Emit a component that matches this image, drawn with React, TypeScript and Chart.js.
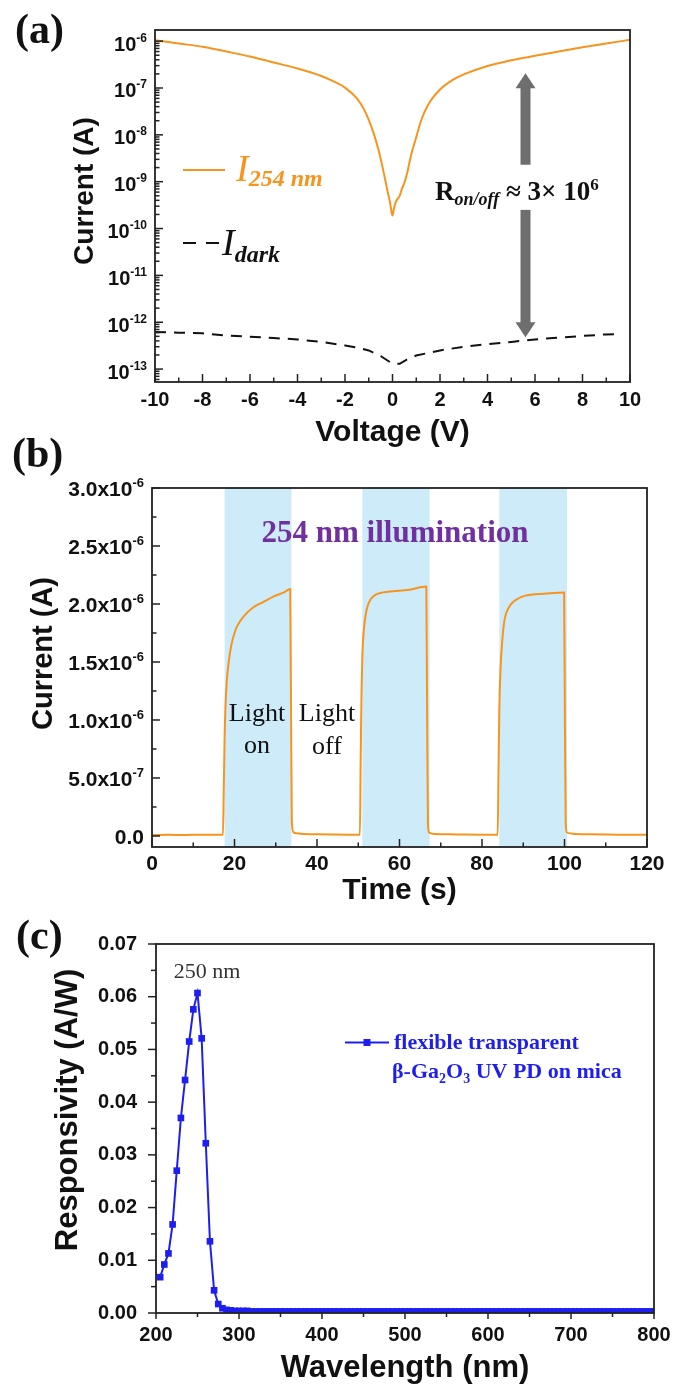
import React, { useEffect, useRef } from 'react';
import { Chart, registerables } from 'chart.js';

Chart.register(...registerables);

const SANS = "'Liberation Sans', Arial, Helvetica, sans-serif";
const SERIF = "'Liberation Serif', 'Times New Roman', Times, serif";
const INK = '#111111';
const ORANGE = '#F7941E';
const BLUE = '#1E1EF0';
const PURPLE = '#7030A0';
const BAND = '#CDEBF9';
const ARROW_GRAY = '#6E6E6E';

// ---------------- (a) I-V curves ----------------
const A_V_LIGHT = [-10, -9, -8, -7, -6, -5, -4, -3, -2.5, -2, -1.5, -1.2, -1, -0.8, -0.6, -0.45, -0.3, -0.2, -0.1, -0.03, 0, 0.05, 0.12, 0.2, 0.3, 0.4, 0.5, 0.6, 0.7, 0.8, 1, 1.2, 1.5, 2, 2.5, 3, 4, 5, 6, 7, 8, 9, 10];
const A_I_LIGHT = [1.05e-6, 8.9e-7, 7.6e-7, 6.0e-7, 4.7e-7, 3.5e-7, 2.6e-7, 1.8e-7, 1.4e-7, 1.02e-7, 6.0e-8, 3.5e-8, 2.1e-8, 1.1e-8, 5.0e-9, 2.4e-9, 1.05e-9, 6.0e-10, 3.5e-10, 2.1e-10, 1.9e-10, 2.5e-10, 3.5e-10, 4.2e-10, 5.0e-10, 7.1e-10, 9.5e-10, 1.4e-9, 2.4e-9, 4.0e-9, 8.9e-9, 2.0e-8, 4.4e-8, 9.3e-8, 1.45e-7, 1.95e-7, 2.95e-7, 3.9e-7, 4.9e-7, 6.0e-7, 7.4e-7, 8.9e-7, 1.07e-6];
const A_V_DARK = [-10, -9, -8, -7, -6, -5, -4, -3, -2, -1.5, -1, -0.5, 0, 0.3, 0.6, 1, 2, 3, 4, 5, 6, 7, 8, 9, 9.5];
const A_I_DARK = [6.2e-13, 6.0e-13, 5.8e-13, 5.2e-13, 4.9e-13, 4.6e-13, 4.3e-13, 3.8e-13, 3.2e-13, 2.9e-13, 2.5e-13, 1.9e-13, 1.3e-13, 1.3e-13, 1.6e-13, 1.95e-13, 2.5e-13, 3.0e-13, 3.4e-13, 3.8e-13, 4.3e-13, 4.7e-13, 5.1e-13, 5.5e-13, 5.6e-13];
const A_X_TICKS = [-10, -8, -6, -4, -2, 0, 2, 4, 6, 8, 10];
const A_X_MINOR = [-9, -7, -5, -3, -1, 1, 3, 5, 7, 9];
const A_Y_DECADES = [-13, -12, -11, -10, -9, -8, -7, -6];
const A_Y_MINOR_MULT = [2, 3, 4, 5, 6, 7, 8, 9];
const A_Y_MIN = 5.3e-14;
const A_Y_MAX = 1.73e-6;
const A_ARROW_V = 5.6;
const A_ARROW_I = [2.07e-7, 2.3e-9, 2.5e-10, 4.8e-13];

// ---------------- (b) transient response ----------------
const B_TIME = [0, 4, 8, 12, 16, 17.2, 17.4, 17.6, 17.8, 18.1, 18.6, 19.2, 20, 20.8, 22.4, 24.5, 26.6, 29.8, 32, 33.5, 33.7, 33.9, 34.3, 36, 40, 44, 48, 50.4, 50.6, 50.8, 51.0, 51.5, 52.1, 53, 54.2, 56, 58.4, 62, 66.5, 66.7, 66.9, 67.2, 68, 72, 76, 80, 83.8, 84.0, 84.2, 84.5, 85, 85.5, 86.5, 87.6, 90.3, 95.6, 99.9, 100.1, 100.3, 100.6, 102, 106, 110, 115, 120];
const B_CURRENT = [0.8e-8, 1.0e-8, 0.9e-8, 1.1e-8, 1.0e-8, 1.0e-8, 0.40e-6, 0.85e-6, 1.10e-6, 1.32e-6, 1.50e-6, 1.64e-6, 1.75e-6, 1.82e-6, 1.90e-6, 1.97e-6, 2.01e-6, 2.07e-6, 2.10e-6, 2.13e-6, 1.10e-6, 0.12e-6, 0.03e-6, 0.02e-6, 1.5e-8, 1.2e-8, 1.1e-8, 1.1e-8, 0.70e-6, 1.25e-6, 1.56e-6, 1.83e-6, 1.96e-6, 2.04e-6, 2.08e-6, 2.10e-6, 2.11e-6, 2.12e-6, 2.15e-6, 1.05e-6, 0.10e-6, 0.03e-6, 0.02e-6, 1.5e-8, 1.2e-8, 1.1e-8, 1.1e-8, 0.55e-6, 1.10e-6, 1.45e-6, 1.72e-6, 1.87e-6, 1.97e-6, 2.02e-6, 2.07e-6, 2.09e-6, 2.10e-6, 1.00e-6, 0.10e-6, 0.03e-6, 0.02e-6, 1.5e-8, 1.2e-8, 1.0e-8, 1.0e-8];
const B_LIGHT_ON = [17.6, 51.0, 84.2];
const B_LIGHT_OFF = [33.8, 67.3, 100.6];
const B_X_TICKS = [0, 20, 40, 60, 80, 100, 120];
const B_X_MINOR = [10, 30, 50, 70, 90, 110];
const B_Y_TICKS = [0, 5e-7, 1e-6, 1.5e-6, 2e-6, 2.5e-6, 3e-6];
const B_Y_MANTISSA = ['0.0', '5.0x10', '1.0x10', '1.5x10', '2.0x10', '2.5x10', '3.0x10'];
const B_Y_EXPONENT = ['', '-7', '-6', '-6', '-6', '-6', '-6'];
const B_Y_MINOR = [2.5e-7, 7.5e-7, 1.25e-6, 1.75e-6, 2.25e-6, 2.75e-6];
const B_Y_MIN = -9.5e-8;
const B_Y_MAX = 3e-6;

// ---------------- (c) spectral responsivity ----------------
const C_WAVELENGTH = [205, 210, 215, 220, 225, 230, 235, 240, 245, 250, 255, 260, 265, 270, 275, 280, 285, 290, 295, 300,
  305, 310, 315, 320, 325, 330, 335, 340, 345, 350, 355, 360, 365, 370, 375, 380, 385, 390, 395, 400,
  405, 410, 415, 420, 425, 430, 435, 440, 445, 450, 455, 460, 465, 470, 475, 480, 485, 490, 495, 500,
  505, 510, 515, 520, 525, 530, 535, 540, 545, 550, 555, 560, 565, 570, 575, 580, 585, 590, 595, 600,
  605, 610, 615, 620, 625, 630, 635, 640, 645, 650, 655, 660, 665, 670, 675, 680, 685, 690, 695, 700,
  705, 710, 715, 720, 725, 730, 735, 740, 745, 750, 755, 760, 765, 770, 775, 780, 785, 790, 795, 800];
const C_RESPONSIVITY = [0.0068, 0.0092, 0.0113, 0.0168, 0.0270, 0.0370, 0.0442, 0.0515, 0.0576, 0.0607, 0.0521, 0.0322, 0.0136, 0.0043, 0.0017, 0.0009, 0.0006, 0.0005, 0.0004, 0.0004,
  0.0004, 0.0004, 0.0003, 0.0003, 0.0003, 0.0003, 0.0003, 0.0003, 0.0003, 0.0003, 0.0003, 0.0003, 0.0003, 0.0003, 0.0003, 0.0003, 0.0003, 0.0003, 0.0003, 0.0003,
  0.0003, 0.0003, 0.0003, 0.0003, 0.0003, 0.0003, 0.0003, 0.0003, 0.0003, 0.0003, 0.0003, 0.0003, 0.0003, 0.0003, 0.0003, 0.0003, 0.0003, 0.0003, 0.0003, 0.0003,
  0.0003, 0.0003, 0.0003, 0.0003, 0.0003, 0.0003, 0.0003, 0.0003, 0.0003, 0.0003, 0.0003, 0.0003, 0.0003, 0.0003, 0.0003, 0.0003, 0.0003, 0.0003, 0.0003, 0.0003,
  0.0003, 0.0003, 0.0003, 0.0003, 0.0003, 0.0003, 0.0003, 0.0003, 0.0003, 0.0003, 0.0003, 0.0003, 0.0003, 0.0003, 0.0003, 0.0003, 0.0003, 0.0003, 0.0003, 0.0003,
  0.0003, 0.0003, 0.0003, 0.0003, 0.0003, 0.0003, 0.0003, 0.0003, 0.0003, 0.0003, 0.0003, 0.0003, 0.0003, 0.0003, 0.0003, 0.0003, 0.0003, 0.0003, 0.0003, 0.0003];
const C_X_TICKS = [200, 300, 400, 500, 600, 700, 800];
const C_X_MINOR = [250, 350, 450, 550, 650, 750];
const C_Y_TICKS = [0, 0.01, 0.02, 0.03, 0.04, 0.05, 0.06, 0.07];
const C_Y_MINOR = [0.005, 0.015, 0.025, 0.035, 0.045, 0.055, 0.065];
const C_PEAK_LABEL = '250 nm';

// ---------------- drawing helpers ----------------
const fnt = (size: number, weight = 'bold', family = SANS, style = 'normal') => `${style} ${weight} ${size}px ${family}`;

type Run = { t: string; f: string; dy?: number; c?: string };
function drawRuns(ctx: any, list: Run[], x: number, y: number, align: string, color: string) {
  ctx.textBaseline = 'alphabetic';
  ctx.textAlign = 'left';
  let w = 0;
  for (const r of list) { ctx.font = r.f; w += ctx.measureText(r.t).width; }
  let cx = align === 'left' ? x : align === 'center' ? x - w / 2 : x - w;
  for (const r of list) {
    ctx.font = r.f;
    ctx.fillStyle = r.c || color;
    ctx.fillText(r.t, cx, y + (r.dy || 0));
    cx += ctx.measureText(r.t).width;
  }
}
function vText(ctx: any, s: string, cx: number, cy: number, f: string, color: string) {
  ctx.save();
  ctx.translate(cx, cy);
  ctx.rotate(-Math.PI / 2);
  ctx.font = f;
  ctx.fillStyle = color;
  ctx.textAlign = 'center';
  ctx.textBaseline = 'middle';
  ctx.fillText(s, 0, 0);
  ctx.restore();
}
function line(ctx: any, x1: number, y1: number, x2: number, y2: number) {
  ctx.beginPath();
  ctx.moveTo(x1, y1);
  ctx.lineTo(x2, y2);
  ctx.stroke();
}
function xTicks(ctx: any, scale: any, vals: number[], yBase: number, len: number) {
  for (const v of vals) { const p = scale.getPixelForValue(v); line(ctx, p, yBase, p, yBase + len); }
}
function yTicks(ctx: any, scale: any, vals: number[], xBase: number, len: number) {
  for (const v of vals) { const p = scale.getPixelForValue(v); line(ctx, xBase, p, xBase + len, p); }
}
function frame(ctx: any, a: any) {
  ctx.strokeStyle = '#222';
  ctx.lineWidth = 1.8;
  ctx.strokeRect(a.left, a.top, a.right - a.left, a.bottom - a.top);
}

const tickFont = (size: number) => ({ family: SANS, size, weight: 'bold' as const });
const hidden = { grid: { display: false, drawTicks: false }, border: { display: false } };

// ---------------- chart configs ----------------
function configA(): any {
  const plugin = {
    id: 'panelA',
    afterDraw(chart: any) {
      const { ctx, chartArea: a } = chart;
      const x = chart.scales.x, y = chart.scales.y;
      ctx.save();
      // arrow
      const ax = x.getPixelForValue(A_ARROW_V);
      const [t0, t1, t2, t3] = A_ARROW_I.map((v) => y.getPixelForValue(v));
      ctx.fillStyle = ARROW_GRAY;
      ctx.fillRect(ax - 5, t0 + 14, 10, t1 - t0 - 14);
      ctx.fillRect(ax - 5, t2, 10, t3 - 14 - t2);
      ctx.beginPath(); ctx.moveTo(ax, t0); ctx.lineTo(ax - 10, t0 + 15); ctx.lineTo(ax + 10, t0 + 15); ctx.closePath(); ctx.fill();
      ctx.beginPath(); ctx.moveTo(ax, t3); ctx.lineTo(ax - 10, t3 - 15); ctx.lineTo(ax + 10, t3 - 15); ctx.closePath(); ctx.fill();
      // ticks (inward)
      ctx.strokeStyle = '#222';
      ctx.lineWidth = 1.5;
      xTicks(ctx, x, A_X_TICKS, a.bottom, -8);
      xTicks(ctx, x, A_X_MINOR, a.bottom, -4.5);
      for (const e of A_Y_DECADES) {
        yTicks(ctx, y, [Math.pow(10, e)], a.left, 8);
        const minors = A_Y_MINOR_MULT.map((m) => m * Math.pow(10, e)).filter((v) => v < A_Y_MAX);
        yTicks(ctx, y, minors, a.left, 4.5);
      }
      yTicks(ctx, y, A_Y_MINOR_MULT.map((m) => m * 1e-14).filter((v) => v > A_Y_MIN), a.left, 4.5);
      frame(ctx, a);
      // y tick labels with superscripts
      for (const e of A_Y_DECADES) {
        const p = y.getPixelForValue(Math.pow(10, e));
        drawRuns(ctx, [{ t: '10', f: fnt(20) }, { t: String(e), f: fnt(12), dy: -9 }], a.left - 8, p + 9.5, 'right', INK);
      }
      // axis titles
      vText(ctx, 'Current (A)', 85.5, 191, fnt(28), INK);
      drawRuns(ctx, [{ t: 'Voltage (V)', f: fnt(30) }], (a.left + a.right) / 2, 441, 'center', INK);
      // panel label
      drawRuns(ctx, [{ t: '(a)', f: fnt(42, 'bold', SERIF) }], 15, 43, 'left', INK);
      // legend
      ctx.strokeStyle = ORANGE; ctx.lineWidth = 2;
      line(ctx, 183, 170, 225, 170);
      drawRuns(ctx, [{ t: 'I', f: fnt(38, 'normal', SERIF, 'italic') }, { t: '254 nm', f: fnt(24, 'bold', SERIF, 'italic'), dy: 5 }], 236, 181, 'left', ORANGE);
      ctx.strokeStyle = INK; ctx.setLineDash([13, 10]);
      line(ctx, 183, 243, 220, 243);
      ctx.setLineDash([]);
      drawRuns(ctx, [{ t: 'I', f: fnt(38, 'normal', SERIF, 'italic') }, { t: 'dark', f: fnt(24, 'bold', SERIF, 'italic'), dy: 7 }], 222, 255, 'left', INK);
      // ratio annotation
      drawRuns(ctx, [
        { t: 'R', f: fnt(27, 'bold', SERIF) },
        { t: 'on/off', f: fnt(18, 'bold', SERIF, 'italic'), dy: 5 },
        { t: ' \u2248 3\u00d7 10', f: fnt(27, 'bold', SERIF) },
        { t: '6', f: fnt(17, 'bold', SERIF), dy: -10 },
      ], 435, 200, 'left', INK);
      ctx.restore();
    },
  };
  return {
    type: 'line',
    data: {
      datasets: [
        { data: A_V_LIGHT.map((v, i) => ({ x: v, y: A_I_LIGHT[i] })), borderColor: ORANGE, borderWidth: 2, pointRadius: 0, cubicInterpolationMode: 'monotone' },
        { data: A_V_DARK.map((v, i) => ({ x: v, y: A_I_DARK[i] })), borderColor: INK, borderWidth: 2, borderDash: [11, 8], pointRadius: 0 },
      ],
    },
    options: {
      responsive: false, animation: false, devicePixelRatio: 1,
      layout: { padding: { left: 0, top: 30, right: 54, bottom: 0 } },
      plugins: { legend: { display: false }, tooltip: { enabled: false } },
      scales: {
        x: {
          type: 'linear', min: -10, max: 10, ...hidden,
          afterBuildTicks: (s: any) => { s.ticks = A_X_TICKS.map((v) => ({ value: v })); },
          ticks: { autoSkip: false, maxRotation: 0, padding: 6, color: INK, font: tickFont(20), callback: (v: any) => String(v) },
          afterFit: (s: any) => { s.height = 73; },
        },
        y: {
          type: 'logarithmic', min: A_Y_MIN, max: A_Y_MAX, ...hidden,
          ticks: { display: false },
          afterFit: (s: any) => { s.width = 155; },
        },
      },
    },
    plugins: [plugin],
  };
}

function configB(): any {
  const plugin = {
    id: 'panelB',
    beforeDatasetsDraw(chart: any) {
      const { ctx, chartArea: a } = chart;
      const x = chart.scales.x;
      ctx.save();
      ctx.fillStyle = BAND;
      B_LIGHT_ON.forEach((s, i) => {
        const x1 = x.getPixelForValue(s), x2 = x.getPixelForValue(B_LIGHT_OFF[i]);
        ctx.fillRect(x1, a.top, x2 - x1, a.bottom - a.top);
      });
      ctx.restore();
    },
    afterDraw(chart: any) {
      const { ctx, chartArea: a } = chart;
      const x = chart.scales.x, y = chart.scales.y;
      ctx.save();
      ctx.strokeStyle = '#222';
      ctx.lineWidth = 1.5;
      xTicks(ctx, x, B_X_TICKS, a.bottom, -8);
      xTicks(ctx, x, B_X_MINOR, a.bottom, -4.5);
      yTicks(ctx, y, B_Y_TICKS, a.left, 8);
      yTicks(ctx, y, B_Y_MINOR, a.left, 4.5);
      frame(ctx, a);
      B_Y_TICKS.forEach((v, i) => {
        const p = y.getPixelForValue(v);
        const runs: Run[] = [{ t: B_Y_MANTISSA[i], f: fnt(21) }];
        if (B_Y_EXPONENT[i]) runs.push({ t: B_Y_EXPONENT[i], f: fnt(13), dy: -9 });
        drawRuns(ctx, runs, 144, p + 8, 'right', INK);
      });
      vText(ctx, 'Current (A)', 44, 228.5, fnt(29), INK);
      drawRuns(ctx, [{ t: 'Time (s)', f: fnt(30) }], (a.left + a.right) / 2, 474, 'center', INK);
      drawRuns(ctx, [{ t: '(b)', f: fnt(42, 'bold', SERIF) }], 12, 42, 'left', INK);
      drawRuns(ctx, [{ t: '254 nm illumination', f: fnt(31, 'bold', SERIF) }], 395, 117, 'center', PURPLE);
      const lf = fnt(26, 'normal', SERIF);
      drawRuns(ctx, [{ t: 'Light', f: lf }], 257, 296, 'center', INK);
      drawRuns(ctx, [{ t: 'on', f: lf }], 257, 328, 'center', INK);
      drawRuns(ctx, [{ t: 'Light', f: lf }], 327, 296, 'center', INK);
      drawRuns(ctx, [{ t: 'off', f: lf }], 327, 329, 'center', INK);
      ctx.restore();
    },
  };
  return {
    type: 'line',
    data: {
      datasets: [
        { data: B_TIME.map((t, i) => ({ x: t, y: B_CURRENT[i] })), borderColor: ORANGE, borderWidth: 2, pointRadius: 0, cubicInterpolationMode: 'monotone' },
      ],
    },
    options: {
      responsive: false, animation: false, devicePixelRatio: 1,
      layout: { padding: { left: 0, top: 63, right: 37, bottom: 0 } },
      plugins: { legend: { display: false }, tooltip: { enabled: false } },
      scales: {
        x: {
          type: 'linear', min: 0, max: 120, ...hidden,
          afterBuildTicks: (s: any) => { s.ticks = B_X_TICKS.map((v) => ({ value: v })); },
          ticks: { autoSkip: false, maxRotation: 0, padding: 5, color: INK, font: tickFont(21), callback: (v: any) => String(v) },
          afterFit: (s: any) => { s.height = 63; },
        },
        y: {
          type: 'linear', min: B_Y_MIN, max: B_Y_MAX, ...hidden,
          ticks: { display: false },
          afterFit: (s: any) => { s.width = 152; },
        },
      },
    },
    plugins: [plugin],
  };
}

function configC(): any {
  const plugin = {
    id: 'panelC',
    afterDraw(chart: any) {
      const { ctx, chartArea: a } = chart;
      const x = chart.scales.x, y = chart.scales.y;
      ctx.save();
      ctx.strokeStyle = '#222';
      ctx.lineWidth = 1.5;
      xTicks(ctx, x, C_X_TICKS, a.bottom, 6);
      xTicks(ctx, x, C_X_MINOR, a.bottom, 4);
      yTicks(ctx, y, C_Y_TICKS, a.left, -8);
      yTicks(ctx, y, C_Y_MINOR, a.left, -5);
      frame(ctx, a);
      vText(ctx, 'Responsivity (A/W)', 68.3, 200, fnt(31), INK);
      drawRuns(ctx, [{ t: 'Wavelength (nm)', f: fnt(31) }], (a.left + a.right) / 2, 467, 'center', INK);
      drawRuns(ctx, [{ t: '(c)', f: fnt(42, 'bold', SERIF) }], 16, 39, 'left', INK);
      drawRuns(ctx, [{ t: C_PEAK_LABEL, f: fnt(22, 'normal', SERIF) }], 207, 68, 'center', '#333');
      // legend
      ctx.strokeStyle = BLUE; ctx.lineWidth = 2;
      line(ctx, 345, 132.5, 389, 132.5);
      ctx.fillStyle = BLUE;
      ctx.fillRect(367 - 3.5, 132.5 - 3.5, 7, 7);
      const lf = fnt(22, 'bold', SERIF);
      drawRuns(ctx, [{ t: 'flexible transparent', f: lf }], 394, 139, 'left', BLUE);
      drawRuns(ctx, [
        { t: '\u03b2-Ga', f: lf },
        { t: '2', f: fnt(14, 'bold', SERIF), dy: 5 },
        { t: 'O', f: lf },
        { t: '3', f: fnt(14, 'bold', SERIF), dy: 5 },
        { t: ' UV PD on mica', f: lf },
      ], 392, 168, 'left', BLUE);
      ctx.restore();
    },
  };
  return {
    type: 'line',
    data: {
      datasets: [
        {
          data: C_WAVELENGTH.map((w, i) => ({ x: w, y: C_RESPONSIVITY[i] })),
          borderColor: BLUE, backgroundColor: BLUE, borderWidth: 2,
          pointStyle: 'rect', pointRadius: 4.7, pointBorderWidth: 0, pointBackgroundColor: BLUE,
        },
      ],
    },
    options: {
      responsive: false, animation: false, devicePixelRatio: 1,
      layout: { padding: { left: 0, top: 34, right: 30, bottom: 0 } },
      plugins: { legend: { display: false }, tooltip: { enabled: false } },
      scales: {
        x: {
          type: 'linear', min: 200, max: 800, ...hidden,
          afterBuildTicks: (s: any) => { s.ticks = C_X_TICKS.map((v) => ({ value: v })); },
          ticks: { autoSkip: false, maxRotation: 0, padding: 10, color: INK, font: tickFont(20), callback: (v: any) => String(v) },
          afterFit: (s: any) => { s.height = 78; },
        },
        y: {
          type: 'linear', min: 0, max: 0.07, ...hidden,
          afterBuildTicks: (s: any) => { s.ticks = C_Y_TICKS.map((v) => ({ value: v })); },
          ticks: { autoSkip: false, padding: 19, color: INK, font: tickFont(20), callback: (v: any) => Number(v).toFixed(2) },
          afterFit: (s: any) => { s.width = 156; },
        },
      },
    },
    plugins: [plugin],
  };
}

function Panel({ top, height, build }: { top: number; height: number; build: () => any }) {
  const ref = useRef<HTMLCanvasElement>(null);
  useEffect(() => {
    const chart = new Chart(ref.current as HTMLCanvasElement, build());
    return () => chart.destroy();
  }, []);
  return (
    <canvas
      ref={ref}
      width={684}
      height={height}
      style={{ position: 'absolute', left: 0, top, width: 684, height }}
    />
  );
}

export default function App() {
  return (
    <div style={{ position: 'absolute', left: 0, top: 0, width: 684, height: 1391, background: '#ffffff', overflow: 'hidden' }}>
      <Panel top={0} height={455} build={configA} />
      <Panel top={425} height={485} build={configB} />
      <Panel top={910} height={481} build={configC} />
    </div>
  );
}
